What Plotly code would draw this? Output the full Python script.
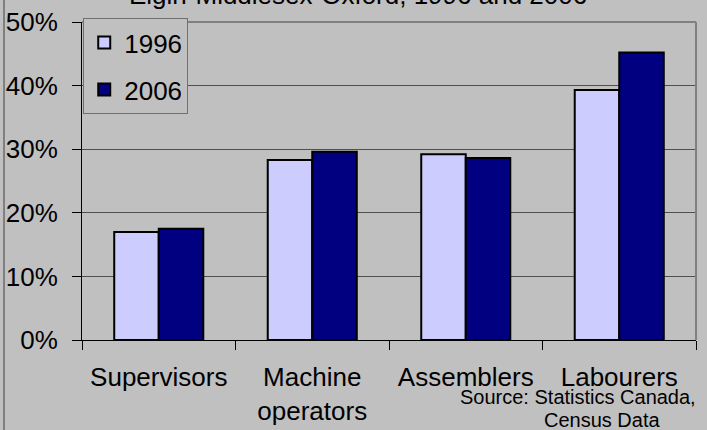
import plotly.graph_objects as go

categories = ["Supervisors", "Machine<br>operators", "Assemblers", "Labourers"]
values_1996 = [17.0, 28.3, 29.2, 39.3]
values_2006 = [17.5, 29.6, 28.6, 45.2]
y_ticks = [0, 10, 20, 30, 40, 50]
y_labels = ["0%", "10%", "20%", "30%", "40%", "50%"]

W, H = 707, 430
PL, PR, PT, PB = 82, 696, 22, 340  # plot area in window pixels
L, R, T, B = PL, W - PR, PT, H - PB
pw, ph = PR - PL, PB - PT

def px(x):
    return (x - PL) / pw

def py(y):
    return (PB - y) / ph

FONT = "Liberation Sans, Arial, sans-serif"

fig = go.Figure()
fig.add_trace(go.Bar(x=categories, y=values_1996, name="1996", legendgroup="a",
                     marker=dict(color="#ccccff", line=dict(color="black", width=2))))
fig.add_trace(go.Bar(x=categories, y=values_2006, name="2006", legendgroup="b",
                     marker=dict(color="#000080", line=dict(color="black", width=2))))

fig.update_layout(
    width=W, height=H,
    margin=dict(l=L, r=R, t=T, b=B, pad=0, autoexpand=False),
    paper_bgcolor="#c0c0c0", plot_bgcolor="#c0c0c0",
    font=dict(family=FONT, color="black", size=26),
    barmode="group", bargap=0.42, bargroupgap=0,
    showlegend=True,
    legend=dict(x=0.002, y=1.012, xanchor="left", yanchor="top",
                bgcolor="#c0c0c0", bordercolor="#707070", borderwidth=1,
                font=dict(size=26), tracegroupgap=10, traceorder="grouped",
                itemwidth=30),
    xaxis=dict(showgrid=False, showline=True, linecolor="black", linewidth=1,
               ticks="outside", ticklen=9, tickcolor="black", tickson="boundaries",
               tickfont=dict(size=26), ticklabelstandoff=14, automargin=False),
    yaxis=dict(range=[0, 50], tickvals=y_ticks, ticktext=y_labels,
               showgrid=True, gridcolor="#505050", gridwidth=1,
               showline=True, linecolor="black", linewidth=1,
               ticks="outside", ticklen=9, tickcolor="black",
               tickfont=dict(size=26), zeroline=False, ticklabelstandoff=9,
               automargin=False),
)

# plot-area frame (top/right gray border)
fig.add_shape(type="line", xref="paper", yref="paper", x0=0, x1=1, y0=1, y1=1,
              line=dict(color="#808080", width=2))
fig.add_shape(type="line", xref="paper", yref="paper", x0=1, x1=1, y0=0, y1=1,
              line=dict(color="#808080", width=2))
# outer chart border on the left
fig.add_shape(type="line", xref="paper", yref="paper", x0=px(4), x1=px(4),
              y0=py(0), y1=py(H), line=dict(color="#808080", width=2))

# clipped title
fig.add_annotation(text="Elgin-Middlesex-Oxford, 1996 and 2006", xref="paper", yref="paper",
                   x=px(358), y=py(12), xanchor="center", yanchor="bottom",
                   showarrow=False, font=dict(size=26))

# source note
fig.add_annotation(text="Source: Statistics Canada,", xref="paper", yref="paper",
                   x=px(578), y=py(397), xanchor="center", yanchor="middle",
                   showarrow=False, font=dict(size=20))
fig.add_annotation(text="Census Data", xref="paper", yref="paper",
                   x=px(602), y=py(420), xanchor="center", yanchor="middle",
                   showarrow=False, font=dict(size=20))

fig.write_html("out.html", config={"displayModeBar": False},
               post_script="document.body.style.margin='0px';document.body.style.overflow='hidden';")
